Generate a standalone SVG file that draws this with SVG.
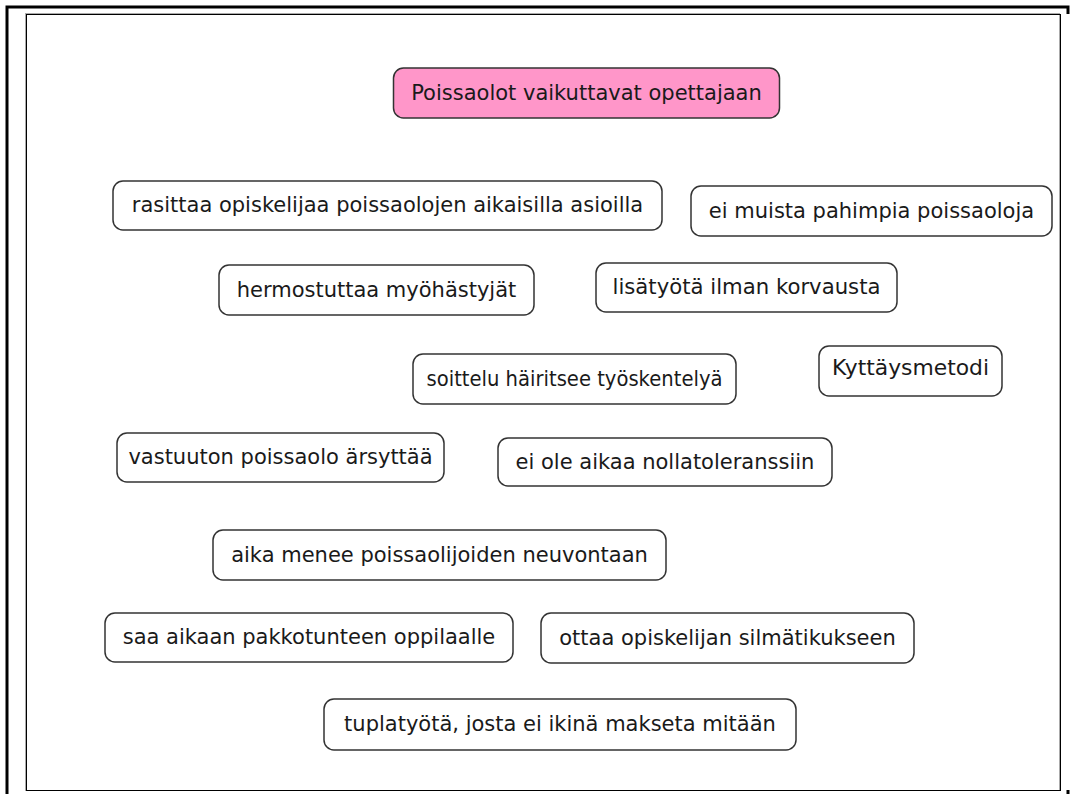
<svg xmlns="http://www.w3.org/2000/svg" width="1072" height="794" viewBox="0 0 1072 794">
<style>
.box{fill:#ffffff;stroke:#333333;stroke-width:1.5}
.root{fill:#ff96c9;stroke:#333333;stroke-width:1.5}
.t{font-family:"DejaVu Sans",Verdana,sans-serif;font-size:21px;fill:#1a1a1a;text-anchor:middle}
</style>
<rect x="0" y="0" width="1072" height="794" fill="#ffffff"/>
<g id="frame">
<path d="M7,794 V7 H1068 V14" fill="none" stroke="#000000" stroke-width="3"/>
<rect x="1066.5" y="790" width="3" height="4" fill="#000000"/>
<rect x="25.5" y="13.5" width="1034" height="777" fill="none" stroke="#aaaaaa" stroke-width="1"/>
<rect x="26.5" y="14.5" width="1034" height="776" fill="none" stroke="#000000" stroke-width="1"/>
</g>
<g id="connectors"></g>
<g id="n0"><rect class="root" x="393.5" y="68" width="386" height="50" rx="10"/><text class="t" x="586.5" y="100">Poissaolot vaikuttavat opettajaan</text></g>
<g id="n1"><rect class="box" x="113" y="181" width="549" height="49" rx="10"/><text class="t" x="387.5" y="212">rasittaa opiskelijaa poissaolojen aikaisilla asioilla</text></g>
<g id="n2"><rect class="box" x="691" y="186" width="361" height="50" rx="10"/><text class="t" x="871.5" y="218">ei muista pahimpia poissaoloja</text></g>
<g id="n3"><rect class="box" x="219" y="265" width="315" height="50" rx="10"/><text class="t" x="376.5" y="297">hermostuttaa myöhästyjät</text></g>
<g id="n4"><rect class="box" x="596" y="263" width="301" height="49" rx="10"/><text class="t" x="746.5" y="294" textLength="268" lengthAdjust="spacingAndGlyphs">lisätyötä ilman korvausta</text></g>
<g id="n5"><rect class="box" x="413" y="354" width="323" height="50" rx="10"/><text class="t" x="574.5" y="386" textLength="296" lengthAdjust="spacingAndGlyphs">soittelu häiritsee työskentelyä</text></g>
<g id="n6"><rect class="box" x="819" y="346" width="183" height="50" rx="10"/><text class="t" x="910.5" y="375" textLength="157" lengthAdjust="spacingAndGlyphs">Kyttäysmetodi</text></g>
<g id="n7"><rect class="box" x="117" y="433" width="327" height="49" rx="10"/><text class="t" x="280.5" y="464">vastuuton poissaolo ärsyttää</text></g>
<g id="n8"><rect class="box" x="498" y="438" width="334" height="48" rx="10"/><text class="t" x="665" y="469">ei ole aikaa nollatoleranssiin</text></g>
<g id="n9"><rect class="box" x="213" y="530" width="453" height="50" rx="10"/><text class="t" x="439.5" y="562">aika menee poissaolijoiden neuvontaan</text></g>
<g id="n10"><rect class="box" x="105" y="613" width="408" height="49" rx="10"/><text class="t" x="309" y="644">saa aikaan pakkotunteen oppilaalle</text></g>
<g id="n11"><rect class="box" x="541" y="613" width="373" height="50" rx="10"/><text class="t" x="727.5" y="645">ottaa opiskelijan silmätikukseen</text></g>
<g id="n12"><rect class="box" x="324" y="699" width="472" height="51" rx="10"/><text class="t" x="560" y="731">tuplatyötä, josta ei ikinä makseta mitään</text></g>
</svg>
